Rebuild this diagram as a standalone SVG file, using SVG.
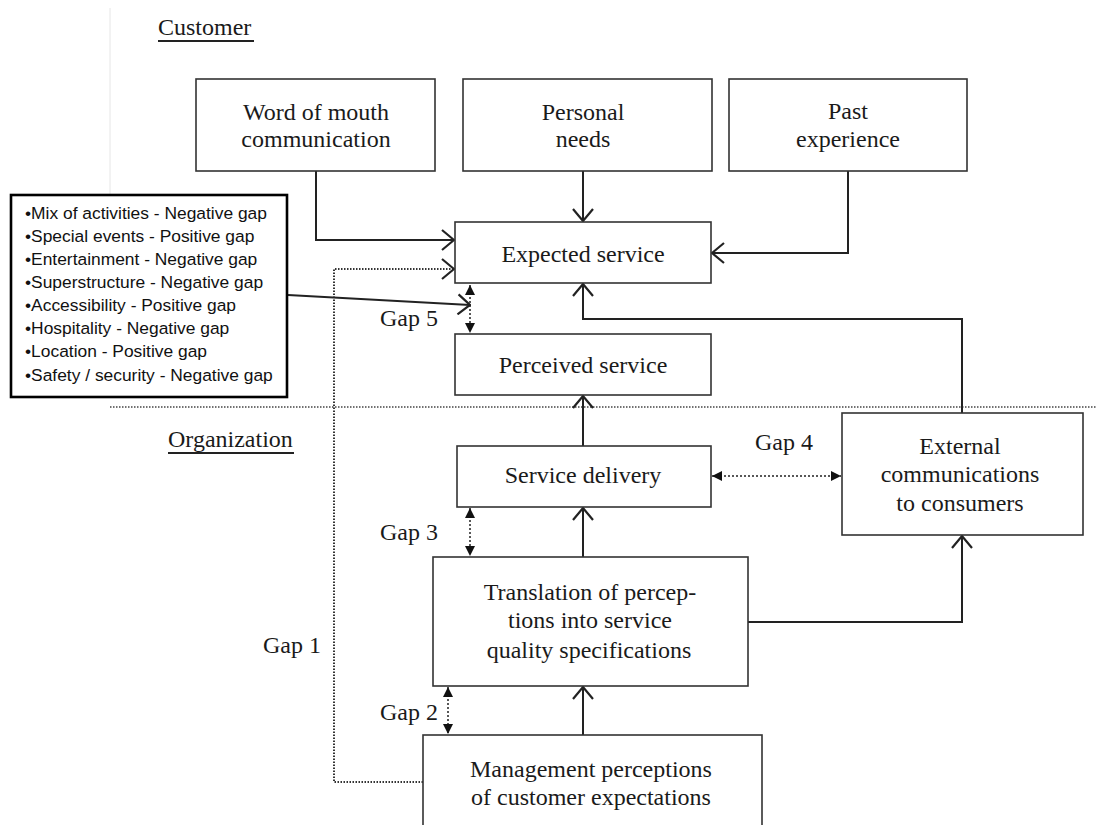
<svg xmlns="http://www.w3.org/2000/svg" width="1096" height="825" viewBox="0 0 1096 825">
<style>
.box{fill:#fff;stroke:#333;stroke-width:1.6}
.t{font-family:"Liberation Serif","Times New Roman",serif;font-size:24px;fill:#1a1a1a;text-anchor:middle}
.tl{font-family:"Liberation Serif","Times New Roman",serif;font-size:24px;fill:#1a1a1a}
.c{font-family:"Liberation Sans",Arial,sans-serif;font-size:17.4px;fill:#111}
.ln{fill:none;stroke:#222;stroke-width:2}
.dot{fill:none;stroke:#333;stroke-width:2;stroke-dasharray:1.5 1.5}
.gap{fill:none;stroke:#222;stroke-width:1.5;stroke-dasharray:2 2}
</style>
<defs>
<marker id="open" viewBox="0 0 14 22" refX="13" refY="11" markerWidth="14" markerHeight="22" markerUnits="userSpaceOnUse" orient="auto">
<path d="M1,1 L13,11 L1,21" fill="none" stroke="#222" stroke-width="2.2"/>
</marker>
<marker id="tri" viewBox="0 0 10 10" refX="10" refY="5" markerWidth="10" markerHeight="10" markerUnits="userSpaceOnUse" orient="auto-start-reverse">
<path d="M0,0 L10,5 L0,10 z" fill="#111"/>
</marker>
</defs>
<rect width="1096" height="825" fill="#fff"/>
<line x1="110" y1="8" x2="110" y2="194" stroke="#e6e6e6" stroke-width="1"/>

<g id="labels">
<text class="tl" x="158" y="35">Customer</text>
<line x1="158" y1="41" x2="254" y2="41" stroke="#222" stroke-width="2"/>
<text class="tl" x="168" y="447">Organization</text>
<line x1="168" y1="453" x2="294" y2="453" stroke="#222" stroke-width="2"/>
<text class="tl" x="380" y="326">Gap 5</text>
<text class="tl" x="755" y="450">Gap 4</text>
<text class="tl" x="380" y="540">Gap 3</text>
<text class="tl" x="380" y="720">Gap 2</text>
<text class="tl" x="263" y="653">Gap 1</text>
</g>

<line x1="110" y1="407" x2="1096" y2="407" stroke="#444" stroke-width="1.6" stroke-dasharray="1.5 1.5"/>

<g id="connectors">
<polyline class="ln" points="316,171 316,240 454,240" marker-end="url(#open)"/>
<polyline class="ln" points="583,171 583,221" marker-end="url(#open)"/>
<polyline class="ln" points="848,171 848,253 712,253" marker-end="url(#open)"/>
<polyline class="ln" points="962,413 962,319 583,319 583,284" marker-end="url(#open)"/>
<polyline class="ln" points="583,446 583,396" marker-end="url(#open)"/>
<polyline class="ln" points="583,557 583,508" marker-end="url(#open)"/>
<polyline class="ln" points="583,735 583,687" stroke-width="3" marker-end="url(#open)"/>
<polyline class="ln" points="748,622 962,622 962,536" marker-end="url(#open)"/>
<polyline class="dot" points="423,782 334,782 334,269 454,269" marker-end="url(#open)"/>
<line class="gap" x1="470" y1="285" x2="470" y2="333" marker-start="url(#tri)" marker-end="url(#tri)"/>
<line class="gap" x1="712" y1="476" x2="841" y2="476" stroke-width="2.5" marker-start="url(#tri)" marker-end="url(#tri)"/>
<line class="gap" x1="470" y1="508" x2="470" y2="556" marker-start="url(#tri)" marker-end="url(#tri)"/>
<line class="gap" x1="448" y1="687" x2="448" y2="734" marker-start="url(#tri)" marker-end="url(#tri)"/>
<polyline class="ln" points="288,295 470,305" marker-end="url(#open)"/>
</g>

<g id="word-of-mouth">
<rect class="box" x="196" y="79" width="239" height="92"/>
<text class="t" x="316" y="120">Word of mouth</text>
<text class="t" x="316" y="147">communication</text>
</g>
<g id="personal-needs">
<rect class="box" x="463" y="79" width="249" height="92"/>
<text class="t" x="583" y="120">Personal</text>
<text class="t" x="583" y="147">needs</text>
</g>
<g id="past-experience">
<rect class="box" x="729" y="79" width="238" height="92"/>
<text class="t" x="848" y="119">Past</text>
<text class="t" x="848" y="147">experience</text>
</g>
<g id="expected-service">
<rect class="box" x="455" y="222" width="256" height="61"/>
<text class="t" x="583" y="262">Expected service</text>
</g>
<g id="perceived-service">
<rect class="box" x="455" y="334" width="256" height="61"/>
<text class="t" x="583" y="373">Perceived service</text>
</g>
<g id="service-delivery">
<rect class="box" x="457" y="446" width="254" height="61"/>
<text class="t" x="583" y="483">Service delivery</text>
</g>
<g id="external-communications">
<rect class="box" x="842" y="413" width="241" height="122"/>
<text class="t" x="960" y="454">External</text>
<text class="t" x="960" y="482">communications</text>
<text class="t" x="960" y="511">to consumers</text>
</g>
<g id="translation">
<rect class="box" x="433" y="557" width="315" height="129"/>
<text class="t" x="590" y="600">Translation of percep-</text>
<text class="t" x="590" y="628">tions into service</text>
<text class="t" x="589" y="658">quality specifications</text>
</g>
<g id="management">
<rect class="box" x="423" y="735" width="339" height="100"/>
<text class="t" x="591" y="777">Management perceptions</text>
<text class="t" x="591" y="805">of customer expectations</text>
</g>
<g id="callout">
<rect x="11" y="195" width="276" height="202" fill="#fff" stroke="#000" stroke-width="2.6"/>
<text class="c" x="25" y="219">•Mix of activities - Negative gap</text>
<text class="c" x="25" y="242">•Special events - Positive gap</text>
<text class="c" x="25" y="265">•Entertainment - Negative gap</text>
<text class="c" x="25" y="288">•Superstructure - Negative gap</text>
<text class="c" x="25" y="311">•Accessibility - Positive gap</text>
<text class="c" x="25" y="334">•Hospitality - Negative gap</text>
<text class="c" x="25" y="357">•Location - Positive gap</text>
<text class="c" x="25" y="381">•Safety / security - Negative gap</text>
</g>
</svg>
